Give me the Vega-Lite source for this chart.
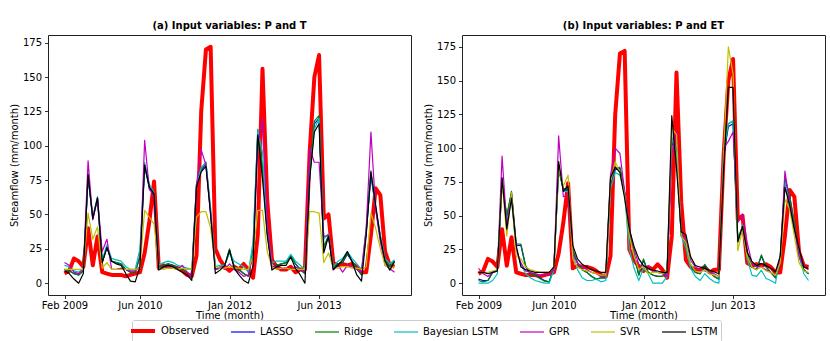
{
"$schema": "https://vega.github.io/schema/vega-lite/v6.json",
"padding": {"left": 8, "top": 20, "right": 9, "bottom": 2},
"background": "white",
"datasets": {"d": [
{"p":"a","t":0,"Observed":7,"LASSO":10,"Ridge":10,"Bayesian LSTM":13,"GPR":15,"SVR":10,"LSTM":9},
{"p":"a","t":1,"Observed":9,"LASSO":9,"Ridge":9,"Bayesian LSTM":12,"GPR":13,"SVR":10,"LSTM":7},
{"p":"a","t":2,"Observed":18,"LASSO":7,"Ridge":7,"Bayesian LSTM":9,"GPR":8,"SVR":10,"LSTM":3},
{"p":"a","t":3,"Observed":16,"LASSO":6,"Ridge":6,"Bayesian LSTM":8,"GPR":7,"SVR":10,"LSTM":0},
{"p":"a","t":4,"Observed":12,"LASSO":9,"Ridge":9,"Bayesian LSTM":11,"GPR":10,"SVR":10,"LSTM":7},
{"p":"a","t":5,"Observed":40,"LASSO":77,"Ridge":78,"Bayesian LSTM":80,"GPR":89,"SVR":51,"LSTM":79},
{"p":"a","t":6,"Observed":13,"LASSO":47,"Ridge":48,"Bayesian LSTM":48,"GPR":46,"SVR":32,"LSTM":47},
{"p":"a","t":7,"Observed":34,"LASSO":61,"Ridge":62,"Bayesian LSTM":63,"GPR":62,"SVR":41,"LSTM":62},
{"p":"a","t":8,"Observed":8,"LASSO":15,"Ridge":15,"Bayesian LSTM":17,"GPR":23,"SVR":11,"LSTM":15},
{"p":"a","t":9,"Observed":7,"LASSO":26,"Ridge":27,"Bayesian LSTM":28,"GPR":32,"SVR":15,"LSTM":26},
{"p":"a","t":10,"Observed":6,"LASSO":16,"Ridge":16,"Bayesian LSTM":18,"GPR":10,"SVR":10,"LSTM":16},
{"p":"a","t":11,"Observed":6,"LASSO":15,"Ridge":15,"Bayesian LSTM":17,"GPR":10,"SVR":10,"LSTM":14},
{"p":"a","t":12,"Observed":6,"LASSO":14,"Ridge":14,"Bayesian LSTM":16,"GPR":11,"SVR":10,"LSTM":13},
{"p":"a","t":13,"Observed":5,"LASSO":10,"Ridge":10,"Bayesian LSTM":12,"GPR":10,"SVR":10,"LSTM":7},
{"p":"a","t":14,"Observed":6,"LASSO":8,"Ridge":8,"Bayesian LSTM":10,"GPR":9,"SVR":10,"LSTM":1.5},
{"p":"a","t":15,"Observed":7,"LASSO":8,"Ridge":8,"Bayesian LSTM":10,"GPR":9,"SVR":10,"LSTM":1},
{"p":"a","t":16,"Observed":8,"LASSO":19,"Ridge":20,"Bayesian LSTM":25,"GPR":12,"SVR":11,"LSTM":12},
{"p":"a","t":17,"Observed":22,"LASSO":85,"Ridge":86,"Bayesian LSTM":88,"GPR":104,"SVR":53,"LSTM":86},
{"p":"a","t":18,"Observed":45,"LASSO":69,"Ridge":70,"Bayesian LSTM":72,"GPR":68,"SVR":48,"LSTM":70},
{"p":"a","t":19,"Observed":74,"LASSO":64,"Ridge":65,"Bayesian LSTM":66,"GPR":65,"SVR":43,"LSTM":65},
{"p":"a","t":20,"Observed":11,"LASSO":11,"Ridge":11,"Bayesian LSTM":13,"GPR":10,"SVR":11,"LSTM":9.5},
{"p":"a","t":21,"Observed":13,"LASSO":13,"Ridge":13,"Bayesian LSTM":15,"GPR":11,"SVR":10,"LSTM":12},
{"p":"a","t":22,"Observed":12,"LASSO":14,"Ridge":14,"Bayesian LSTM":16,"GPR":13,"SVR":11,"LSTM":13},
{"p":"a","t":23,"Observed":12,"LASSO":13,"Ridge":13,"Bayesian LSTM":15,"GPR":12,"SVR":11,"LSTM":12},
{"p":"a","t":24,"Observed":11,"LASSO":11,"Ridge":11,"Bayesian LSTM":13,"GPR":10,"SVR":10,"LSTM":10},
{"p":"a","t":25,"Observed":9,"LASSO":10,"Ridge":10,"Bayesian LSTM":12,"GPR":13,"SVR":11,"LSTM":8},
{"p":"a","t":26,"Observed":6,"LASSO":8,"Ridge":8,"Bayesian LSTM":11,"GPR":8,"SVR":10,"LSTM":6},
{"p":"a","t":27,"Observed":5,"LASSO":5,"Ridge":5,"Bayesian LSTM":10,"GPR":5,"SVR":10,"LSTM":2},
{"p":"a","t":28,"Observed":20,"LASSO":71,"Ridge":72,"Bayesian LSTM":72,"GPR":72,"SVR":48,"LSTM":70},
{"p":"a","t":29,"Observed":125,"LASSO":82,"Ridge":83,"Bayesian LSTM":84,"GPR":97,"SVR":52,"LSTM":81},
{"p":"a","t":30,"Observed":170,"LASSO":87,"Ridge":88,"Bayesian LSTM":88,"GPR":86,"SVR":52,"LSTM":85},
{"p":"a","t":31,"Observed":172,"LASSO":51,"Ridge":52,"Bayesian LSTM":55,"GPR":50,"SVR":40,"LSTM":50},
{"p":"a","t":32,"Observed":25,"LASSO":10,"Ridge":10,"Bayesian LSTM":12,"GPR":10,"SVR":12,"LSTM":7},
{"p":"a","t":33,"Observed":17,"LASSO":11,"Ridge":11,"Bayesian LSTM":13,"GPR":12,"SVR":11,"LSTM":9.5},
{"p":"a","t":34,"Observed":12,"LASSO":13,"Ridge":13,"Bayesian LSTM":13,"GPR":10,"SVR":11,"LSTM":13},
{"p":"a","t":35,"Observed":9,"LASSO":24,"Ridge":25,"Bayesian LSTM":22,"GPR":14,"SVR":12,"LSTM":24},
{"p":"a","t":36,"Observed":12,"LASSO":12,"Ridge":12,"Bayesian LSTM":16,"GPR":10,"SVR":11,"LSTM":10.7},
{"p":"a","t":37,"Observed":10,"LASSO":10,"Ridge":10,"Bayesian LSTM":14,"GPR":8,"SVR":11,"LSTM":6},
{"p":"a","t":38,"Observed":14,"LASSO":7,"Ridge":7,"Bayesian LSTM":12,"GPR":5,"SVR":10,"LSTM":2},
{"p":"a","t":39,"Observed":10,"LASSO":5,"Ridge":5,"Bayesian LSTM":8,"GPR":6,"SVR":10,"LSTM":0},
{"p":"a","t":40,"Observed":4,"LASSO":24,"Ridge":25,"Bayesian LSTM":30,"GPR":20,"SVR":20,"LSTM":13},
{"p":"a","t":41,"Observed":35,"LASSO":110,"Ridge":112,"Bayesian LSTM":112,"GPR":100,"SVR":53,"LSTM":108},
{"p":"a","t":42,"Observed":156,"LASSO":84,"Ridge":85,"Bayesian LSTM":95,"GPR":120,"SVR":53,"LSTM":76},
{"p":"a","t":43,"Observed":60,"LASSO":37,"Ridge":38,"Bayesian LSTM":40,"GPR":45,"SVR":23,"LSTM":35},
{"p":"a","t":44,"Observed":17,"LASSO":11,"Ridge":11,"Bayesian LSTM":15,"GPR":12,"SVR":12,"LSTM":9.5},
{"p":"a","t":45,"Observed":12,"LASSO":13,"Ridge":13,"Bayesian LSTM":16,"GPR":12,"SVR":10,"LSTM":12},
{"p":"a","t":46,"Observed":10,"LASSO":14,"Ridge":14,"Bayesian LSTM":16,"GPR":10,"SVR":11,"LSTM":13},
{"p":"a","t":47,"Observed":10,"LASSO":15,"Ridge":15,"Bayesian LSTM":16,"GPR":11,"SVR":11,"LSTM":13},
{"p":"a","t":48,"Observed":12,"LASSO":20,"Ridge":20,"Bayesian LSTM":21,"GPR":10,"SVR":10,"LSTM":19},
{"p":"a","t":49,"Observed":8,"LASSO":14,"Ridge":14,"Bayesian LSTM":16,"GPR":12,"SVR":10,"LSTM":10.7},
{"p":"a","t":50,"Observed":10,"LASSO":10,"Ridge":10,"Bayesian LSTM":13,"GPR":10,"SVR":10,"LSTM":6},
{"p":"a","t":51,"Observed":10,"LASSO":7,"Ridge":7,"Bayesian LSTM":10,"GPR":8,"SVR":10,"LSTM":0},
{"p":"a","t":52,"Observed":95,"LASSO":77,"Ridge":78,"Bayesian LSTM":78,"GPR":98,"SVR":52,"LSTM":76},
{"p":"a","t":53,"Observed":150,"LASSO":116,"Ridge":118,"Bayesian LSTM":112,"GPR":88,"SVR":52,"LSTM":110},
{"p":"a","t":54,"Observed":166,"LASSO":120,"Ridge":122,"Bayesian LSTM":120,"GPR":88,"SVR":51,"LSTM":116},
{"p":"a","t":55,"Observed":47,"LASSO":26,"Ridge":26,"Bayesian LSTM":32,"GPR":34,"SVR":15,"LSTM":22},
{"p":"a","t":56,"Observed":50,"LASSO":34,"Ridge":35,"Bayesian LSTM":36,"GPR":35,"SVR":22,"LSTM":34},
{"p":"a","t":57,"Observed":15,"LASSO":11,"Ridge":11,"Bayesian LSTM":12,"GPR":9.5,"SVR":11,"LSTM":10},
{"p":"a","t":58,"Observed":13,"LASSO":14,"Ridge":14,"Bayesian LSTM":16,"GPR":13,"SVR":11,"LSTM":13},
{"p":"a","t":59,"Observed":14,"LASSO":15,"Ridge":15,"Bayesian LSTM":18,"GPR":8,"SVR":12,"LSTM":17},
{"p":"a","t":60,"Observed":13,"LASSO":21,"Ridge":22,"Bayesian LSTM":23,"GPR":13,"SVR":12,"LSTM":23},
{"p":"a","t":61,"Observed":14,"LASSO":16,"Ridge":16,"Bayesian LSTM":18,"GPR":12,"SVR":11,"LSTM":15.6},
{"p":"a","t":62,"Observed":12,"LASSO":11,"Ridge":11,"Bayesian LSTM":14,"GPR":10,"SVR":11,"LSTM":6},
{"p":"a","t":63,"Observed":8,"LASSO":6,"Ridge":6,"Bayesian LSTM":10,"GPR":8,"SVR":10,"LSTM":1.5},
{"p":"a","t":64,"Observed":8,"LASSO":37,"Ridge":38,"Bayesian LSTM":40,"GPR":40,"SVR":12,"LSTM":35},
{"p":"a","t":65,"Observed":35,"LASSO":79,"Ridge":80,"Bayesian LSTM":82,"GPR":110,"SVR":51,"LSTM":81},
{"p":"a","t":66,"Observed":69,"LASSO":54,"Ridge":55,"Bayesian LSTM":55,"GPR":54,"SVR":40,"LSTM":57},
{"p":"a","t":67,"Observed":64,"LASSO":33,"Ridge":34,"Bayesian LSTM":35,"GPR":30,"SVR":25,"LSTM":33},
{"p":"a","t":68,"Observed":23,"LASSO":17,"Ridge":17,"Bayesian LSTM":18,"GPR":13,"SVR":13,"LSTM":16},
{"p":"a","t":69,"Observed":13,"LASSO":12,"Ridge":12,"Bayesian LSTM":14,"GPR":10.7,"SVR":11,"LSTM":9.5},
{"p":"a","t":70,"Observed":12,"LASSO":16,"Ridge":16,"Bayesian LSTM":17,"GPR":8,"SVR":12,"LSTM":15.6},
{"p":"b","t":0,"Observed":7,"LASSO":3,"Ridge":2,"Bayesian LSTM":0,"GPR":11,"SVR":8,"LSTM":8},
{"p":"b","t":1,"Observed":9,"LASSO":2,"Ridge":1,"Bayesian LSTM":0,"GPR":7,"SVR":8,"LSTM":8},
{"p":"b","t":2,"Observed":18,"LASSO":2,"Ridge":2,"Bayesian LSTM":0,"GPR":5,"SVR":8,"LSTM":7},
{"p":"b","t":3,"Observed":16,"LASSO":8,"Ridge":8,"Bayesian LSTM":2,"GPR":8,"SVR":9,"LSTM":8},
{"p":"b","t":4,"Observed":12,"LASSO":9,"Ridge":9.6,"Bayesian LSTM":7,"GPR":9,"SVR":10,"LSTM":9},
{"p":"b","t":5,"Observed":40,"LASSO":74,"Ridge":75,"Bayesian LSTM":78,"GPR":94,"SVR":75,"LSTM":78},
{"p":"b","t":6,"Observed":13,"LASSO":49,"Ridge":50,"Bayesian LSTM":45,"GPR":42,"SVR":35,"LSTM":40},
{"p":"b","t":7,"Observed":34,"LASSO":67,"Ridge":68,"Bayesian LSTM":62,"GPR":66,"SVR":67,"LSTM":63},
{"p":"b","t":8,"Observed":8,"LASSO":28,"Ridge":29,"Bayesian LSTM":25,"GPR":25,"SVR":20,"LSTM":28},
{"p":"b","t":9,"Observed":7,"LASSO":28,"Ridge":29,"Bayesian LSTM":14,"GPR":15,"SVR":18,"LSTM":12},
{"p":"b","t":10,"Observed":6,"LASSO":12,"Ridge":13,"Bayesian LSTM":7,"GPR":9,"SVR":12,"LSTM":10},
{"p":"b","t":11,"Observed":6,"LASSO":7,"Ridge":7,"Bayesian LSTM":4,"GPR":8,"SVR":10,"LSTM":9},
{"p":"b","t":12,"Observed":6,"LASSO":6,"Ridge":6,"Bayesian LSTM":2,"GPR":7,"SVR":9,"LSTM":8},
{"p":"b","t":13,"Observed":5,"LASSO":4,"Ridge":3.5,"Bayesian LSTM":1,"GPR":6,"SVR":8,"LSTM":8},
{"p":"b","t":14,"Observed":6,"LASSO":2,"Ridge":1.5,"Bayesian LSTM":0,"GPR":6,"SVR":8,"LSTM":8},
{"p":"b","t":15,"Observed":7,"LASSO":1,"Ridge":1,"Bayesian LSTM":0,"GPR":6,"SVR":8,"LSTM":8},
{"p":"b","t":16,"Observed":8,"LASSO":12,"Ridge":12,"Bayesian LSTM":10,"GPR":10,"SVR":12,"LSTM":12},
{"p":"b","t":17,"Observed":22,"LASSO":84,"Ridge":85,"Bayesian LSTM":88,"GPR":109,"SVR":85,"LSTM":90},
{"p":"b","t":18,"Observed":45,"LASSO":69,"Ridge":70,"Bayesian LSTM":68,"GPR":64,"SVR":72,"LSTM":68},
{"p":"b","t":19,"Observed":74,"LASSO":69,"Ridge":70,"Bayesian LSTM":68,"GPR":65,"SVR":80,"LSTM":72},
{"p":"b","t":20,"Observed":11,"LASSO":24,"Ridge":25,"Bayesian LSTM":22,"GPR":22,"SVR":18,"LSTM":28},
{"p":"b","t":21,"Observed":13,"LASSO":15,"Ridge":15,"Bayesian LSTM":10,"GPR":15,"SVR":12,"LSTM":18},
{"p":"b","t":22,"Observed":12,"LASSO":10,"Ridge":10,"Bayesian LSTM":4,"GPR":12,"SVR":10,"LSTM":14},
{"p":"b","t":23,"Observed":12,"LASSO":8,"Ridge":8,"Bayesian LSTM":2,"GPR":10,"SVR":9,"LSTM":12},
{"p":"b","t":24,"Observed":11,"LASSO":5,"Ridge":5,"Bayesian LSTM":2,"GPR":8,"SVR":8,"LSTM":10},
{"p":"b","t":25,"Observed":9,"LASSO":3,"Ridge":3,"Bayesian LSTM":3,"GPR":7,"SVR":7,"LSTM":9},
{"p":"b","t":26,"Observed":6,"LASSO":4,"Ridge":4,"Bayesian LSTM":1,"GPR":5,"SVR":6,"LSTM":8},
{"p":"b","t":27,"Observed":5,"LASSO":4,"Ridge":4,"Bayesian LSTM":2,"GPR":6,"SVR":6,"LSTM":8},
{"p":"b","t":28,"Observed":20,"LASSO":74,"Ridge":75,"Bayesian LSTM":70,"GPR":80,"SVR":75,"LSTM":78},
{"p":"b","t":29,"Observed":125,"LASSO":84,"Ridge":85,"Bayesian LSTM":82,"GPR":100,"SVR":90,"LSTM":86},
{"p":"b","t":30,"Observed":170,"LASSO":85,"Ridge":86,"Bayesian LSTM":80,"GPR":96,"SVR":82,"LSTM":82},
{"p":"b","t":31,"Observed":172,"LASSO":67,"Ridge":68,"Bayesian LSTM":65,"GPR":68,"SVR":65,"LSTM":63},
{"p":"b","t":32,"Observed":25,"LASSO":39,"Ridge":40,"Bayesian LSTM":25,"GPR":40,"SVR":35,"LSTM":40},
{"p":"b","t":33,"Observed":17,"LASSO":21,"Ridge":22,"Bayesian LSTM":11,"GPR":25,"SVR":20,"LSTM":27},
{"p":"b","t":34,"Observed":12,"LASSO":6,"Ridge":6,"Bayesian LSTM":2,"GPR":14,"SVR":10,"LSTM":18},
{"p":"b","t":35,"Observed":9,"LASSO":17,"Ridge":18,"Bayesian LSTM":11,"GPR":12,"SVR":13,"LSTM":13},
{"p":"b","t":36,"Observed":12,"LASSO":8,"Ridge":8,"Bayesian LSTM":7,"GPR":12,"SVR":7,"LSTM":11},
{"p":"b","t":37,"Observed":10,"LASSO":6,"Ridge":6,"Bayesian LSTM":0,"GPR":9,"SVR":8,"LSTM":9.6},
{"p":"b","t":38,"Observed":14,"LASSO":5,"Ridge":5,"Bayesian LSTM":0,"GPR":8,"SVR":8,"LSTM":9},
{"p":"b","t":39,"Observed":10,"LASSO":5,"Ridge":5,"Bayesian LSTM":0,"GPR":7,"SVR":7,"LSTM":8},
{"p":"b","t":40,"Observed":4,"LASSO":8,"Ridge":8,"Bayesian LSTM":5,"GPR":5,"SVR":10,"LSTM":8},
{"p":"b","t":41,"Observed":35,"LASSO":104,"Ridge":105,"Bayesian LSTM":108,"GPR":95,"SVR":115,"LSTM":124},
{"p":"b","t":42,"Observed":156,"LASSO":99,"Ridge":100,"Bayesian LSTM":97,"GPR":113,"SVR":110,"LSTM":85},
{"p":"b","t":43,"Observed":60,"LASSO":35,"Ridge":35,"Bayesian LSTM":35,"GPR":38,"SVR":35,"LSTM":38},
{"p":"b","t":44,"Observed":17,"LASSO":30,"Ridge":30,"Bayesian LSTM":26,"GPR":32,"SVR":30,"LSTM":36},
{"p":"b","t":45,"Observed":12,"LASSO":12,"Ridge":12,"Bayesian LSTM":11,"GPR":17,"SVR":14,"LSTM":19.5},
{"p":"b","t":46,"Observed":10,"LASSO":8,"Ridge":8,"Bayesian LSTM":5,"GPR":12,"SVR":9,"LSTM":13},
{"p":"b","t":47,"Observed":10,"LASSO":7,"Ridge":7,"Bayesian LSTM":2,"GPR":10,"SVR":8,"LSTM":12},
{"p":"b","t":48,"Observed":12,"LASSO":13,"Ridge":14,"Bayesian LSTM":7,"GPR":9,"SVR":10,"LSTM":11},
{"p":"b","t":49,"Observed":8,"LASSO":8,"Ridge":8,"Bayesian LSTM":3.5,"GPR":8,"SVR":7,"LSTM":9.6},
{"p":"b","t":50,"Observed":10,"LASSO":5,"Ridge":5,"Bayesian LSTM":1,"GPR":7,"SVR":6,"LSTM":8.4},
{"p":"b","t":51,"Observed":10,"LASSO":3,"Ridge":3,"Bayesian LSTM":0,"GPR":5,"SVR":5,"LSTM":7},
{"p":"b","t":52,"Observed":95,"LASSO":94,"Ridge":95,"Bayesian LSTM":100,"GPR":100,"SVR":95,"LSTM":85},
{"p":"b","t":53,"Observed":150,"LASSO":116,"Ridge":118,"Bayesian LSTM":118,"GPR":105,"SVR":175,"LSTM":145},
{"p":"b","t":54,"Observed":166,"LASSO":118,"Ridge":120,"Bayesian LSTM":120,"GPR":112,"SVR":155,"LSTM":145},
{"p":"b","t":55,"Observed":47,"LASSO":33,"Ridge":33,"Bayesian LSTM":30,"GPR":45,"SVR":24,"LSTM":30.6},
{"p":"b","t":56,"Observed":50,"LASSO":41,"Ridge":42,"Bayesian LSTM":43,"GPR":51,"SVR":40,"LSTM":42},
{"p":"b","t":57,"Observed":15,"LASSO":22,"Ridge":22,"Bayesian LSTM":18,"GPR":30,"SVR":20,"LSTM":23},
{"p":"b","t":58,"Observed":13,"LASSO":12,"Ridge":12,"Bayesian LSTM":6,"GPR":15,"SVR":12,"LSTM":16},
{"p":"b","t":59,"Observed":14,"LASSO":10,"Ridge":10,"Bayesian LSTM":5,"GPR":12,"SVR":10,"LSTM":13},
{"p":"b","t":60,"Observed":13,"LASSO":20,"Ridge":21,"Bayesian LSTM":9.6,"GPR":12,"SVR":12,"LSTM":14.6},
{"p":"b","t":61,"Observed":14,"LASSO":12,"Ridge":12,"Bayesian LSTM":3.5,"GPR":10,"SVR":9,"LSTM":13},
{"p":"b","t":62,"Observed":12,"LASSO":8,"Ridge":8,"Bayesian LSTM":2,"GPR":8,"SVR":8,"LSTM":11},
{"p":"b","t":63,"Observed":8,"LASSO":4,"Ridge":4,"Bayesian LSTM":0,"GPR":6,"SVR":6,"LSTM":8.4},
{"p":"b","t":64,"Observed":8,"LASSO":15,"Ridge":15,"Bayesian LSTM":21,"GPR":18,"SVR":15,"LSTM":20},
{"p":"b","t":65,"Observed":35,"LASSO":77,"Ridge":78,"Bayesian LSTM":75,"GPR":83,"SVR":62,"LSTM":71},
{"p":"b","t":66,"Observed":69,"LASSO":64,"Ridge":65,"Bayesian LSTM":55,"GPR":60,"SVR":55,"LSTM":58},
{"p":"b","t":67,"Observed":64,"LASSO":44,"Ridge":45,"Bayesian LSTM":40.5,"GPR":40,"SVR":35,"LSTM":40},
{"p":"b","t":68,"Observed":23,"LASSO":20,"Ridge":20,"Bayesian LSTM":21,"GPR":20,"SVR":15,"LSTM":25.7},
{"p":"b","t":69,"Observed":13,"LASSO":10,"Ridge":10,"Bayesian LSTM":7,"GPR":12,"SVR":9,"LSTM":12},
{"p":"b","t":70,"Observed":12,"LASSO":7,"Ridge":7,"Bayesian LSTM":2,"GPR":10,"SVR":8,"LSTM":11}
]},
"data": {"name": "d"},
"transform": [{"fold": ["Observed","LASSO","Ridge","Bayesian LSTM","GPR","SVR","LSTM"], "as": ["series","value"]}],
"spacing": 10,
"resolve": {"scale": {"y": "independent", "x": "independent"}},
"hconcat": [
 {
  "width": 363, "height": 260,
  "title": {"text": "(a) Input variables: P and T"},
  "transform": [{"filter": "datum.p == 'a'"}],
  "mark": {"type": "line", "strokeJoin": "round"},
  "encoding": {
   "x": {"field": "t", "type": "quantitative", "scale": {"domain": [-3.5, 73.5], "nice": false, "zero": false},
         "axis": {"values": [0,16,35,54], "labelExpr": "datum.value == 0 ? 'Feb 2009' : datum.value == 16 ? 'Jun 2010' : datum.value == 35 ? 'Jan 2012' : 'Jun 2013'", "title": "Time (month)"}},
   "y": {"field": "value", "type": "quantitative", "scale": {"domain": [-8.6, 180.6], "nice": false, "zero": false},
         "axis": {"values": [0,25,50,75,100,125,150,175], "title": "Streamflow (mm/month)"}},
   "color": {"field": "series", "type": "nominal",
             "scale": {"domain": ["Observed","LASSO","Ridge","Bayesian LSTM","GPR","SVR","LSTM"], "range": ["#ff0000","#0000ff","#008000","#00bfbf","#bf00bf","#bfbf00","#000000"]},
             "legend": {"encode": {"symbols": {"update": {"strokeWidth": {"signal": "datum.value === 'Observed' ? 4 : 1.5"}}}}}},
   "strokeWidth": {"field": "series", "type": "nominal",
             "scale": {"type": "ordinal", "domain": ["Observed","LASSO","Ridge","Bayesian LSTM","GPR","SVR","LSTM"], "range": [4,1.2,1.2,1.2,1.2,1.2,1.2]}, "legend": null}
  }
 },
 {
  "width": 363, "height": 260,
  "title": {"text": "(b) Input variables: P and ET"},
  "transform": [{"filter": "datum.p == 'b'"}],
  "mark": {"type": "line", "strokeJoin": "round"},
  "encoding": {
   "x": {"field": "t", "type": "quantitative", "scale": {"domain": [-3.5, 73.5], "nice": false, "zero": false},
         "axis": {"values": [0,16,35,54], "labelExpr": "datum.value == 0 ? 'Feb 2009' : datum.value == 16 ? 'Jun 2010' : datum.value == 35 ? 'Jan 2012' : 'Jun 2013'", "title": "Time (month)"}},
   "y": {"field": "value", "type": "quantitative", "scale": {"domain": [-8.75, 183.75], "nice": false, "zero": false},
         "axis": {"values": [0,25,50,75,100,125,150,175], "title": "Streamflow (mm/month)"}},
   "color": {"field": "series", "type": "nominal",
             "scale": {"domain": ["Observed","LASSO","Ridge","Bayesian LSTM","GPR","SVR","LSTM"], "range": ["#ff0000","#0000ff","#008000","#00bfbf","#bf00bf","#bfbf00","#000000"]},
             "legend": {"encode": {"symbols": {"update": {"strokeWidth": {"signal": "datum.value === 'Observed' ? 4 : 1.5"}}}}}},
   "strokeWidth": {"field": "series", "type": "nominal",
             "scale": {"type": "ordinal", "domain": ["Observed","LASSO","Ridge","Bayesian LSTM","GPR","SVR","LSTM"], "range": [4,1.2,1.2,1.2,1.2,1.2,1.2]}, "legend": null}
  }
 }
],
"config": {
 "font": "DejaVu Sans",
 "view": {"stroke": "#222222", "strokeWidth": 1},
 "title": {"font": "DejaVu Sans", "fontSize": 10, "fontWeight": "bold", "color": "#000000", "offset": 4, "anchor": "middle", "frame": "group"},
 "axis": {"labelFont": "DejaVu Sans", "labelFontSize": 10, "labelColor": "#000000", "titleFont": "DejaVu Sans", "titleFontSize": 10, "titleFontWeight": "normal", "titleColor": "#000000", "tickSize": 3.5, "tickColor": "#000000", "tickWidth": 0.8, "domain": false, "grid": false, "labelPadding": 3},
 "axisX": {"titlePadding": 0, "labelPadding": 2},
 "axisY": {"titlePadding": 3},
 "legend": {"orient": "none", "legendX": 84, "legendY": 285, "direction": "horizontal", "title": null,
            "symbolType": "M-2,0H2", "symbolSize": 144, "symbolStrokeWidth": 1.5,
            "labelFont": "DejaVu Sans", "labelFontSize": 10, "labelColor": "#000000", "labelOffset": 10,
            "columnPadding": 18, "padding": 3, "strokeColor": "#cccccc", "fillColor": "#ffffff", "cornerRadius": 2}
}
}
